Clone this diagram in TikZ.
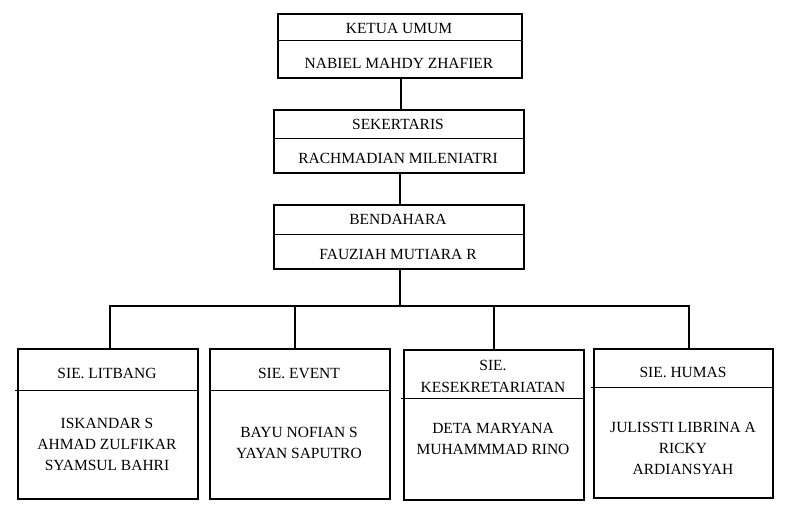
\documentclass[tikz,border=0pt]{standalone}
\usepackage{fontspec}
\setmainfont{Liberation Serif}
\begin{document}
\begin{tikzpicture}[x=1pt,y=-1pt,
  box/.style={draw=black, line width=2pt, inner sep=0pt, anchor=north west},
  lbl/.style={inner sep=0pt, align=center, font=\fontsize{15.5}{21}\selectfont},
  divider/.style={line width=1pt},
  conn/.style={line width=2pt}]
\useasboundingbox[fill=white] (0,0) rectangle (790,513);
% top chain
\node[box, minimum width=244pt, minimum height=64pt] (k) at (277,13) {};
\node[lbl] (kt) at (399,28) {KETUA UMUM};
\node[lbl] (kn) at (399,63) {NABIEL MAHDY ZHAFIER};
\draw[divider] (k.west |- 0,41) -- (k.east |- 0,41);

\node[box, minimum width=250pt, minimum height=63pt] (s) at (273,109) {};
\node[lbl] (st) at (398,124) {SEKERTARIS};
\node[lbl] (sn) at (398,158) {RACHMADIAN MILENIATRI};
\draw[divider] (s.west |- 0,139) -- (s.east |- 0,139);

\node[box, minimum width=250pt, minimum height=64pt] (b) at (273,204) {};
\node[lbl] (bt) at (398,219) {BENDAHARA};
\node[lbl] (bn) at (398,254) {FAUZIAH MUTIARA R};
\draw[divider] (b.west |- 0,235) -- (b.east |- 0,235);

\draw[conn] (k.south -| 401,0) -- (s.north -| 401,0);
\draw[conn] (s.south -| 400,0) -- (b.north -| 400,0);
\coordinate (bus) at (400,306);
\draw[conn] (b.south -| 400,0) -- (bus);

% bottom boxes
\node[box, minimum width=180pt, minimum height=150pt] (l) at (17,348) {};
\node[lbl] (lt) at (107,373) {SIE. LITBANG};
\draw[divider] (15,390) -- (l.east |- 0,390);
\node[lbl] (ln) at (107,444) {ISKANDAR S\\AHMAD ZULFIKAR\\SYAMSUL BAHRI};

\node[box, minimum width=180pt, minimum height=150pt] (e) at (209,348) {};
\node[lbl] (et) at (299,373) {SIE. EVENT};
\draw[divider] (e.west |- 0,390) -- (e.east |- 0,390);
\node[lbl] (en) at (299,443) {BAYU NOFIAN S\\YAYAN SAPUTRO};

\node[box, minimum width=180pt, minimum height=150pt] (r) at (403,349) {};
\node[lbl, font=\fontsize{15.5}{22}\selectfont] (rt) at (493,376) {SIE.\\KESEKRETARIATAN};
\draw[divider] (401,398) -- (r.east |- 0,398);
\node[lbl] (rn) at (493,439) {DETA MARYANA\\MUHAMMMAD RINO};

\node[box, minimum width=179pt, minimum height=149pt] (h) at (593,348) {};
\node[lbl] (ht) at (683,372) {SIE. HUMAS};
\draw[divider] (591,387) -- (h.east |- 0,387);
\node[lbl] (hn) at (683,448) {JULISSTI LIBRINA A\\RICKY\\ARDIANSYAH};

% connectors from bus
\draw[conn] (l.north -| 110,0) |- (bus);
\draw[conn] (e.north -| 295,0) |- (bus);
\draw[conn] (r.north -| 494,0) |- (bus);
\draw[conn] (h.north -| 689,0) |- (bus);
\end{tikzpicture}
\end{document}
